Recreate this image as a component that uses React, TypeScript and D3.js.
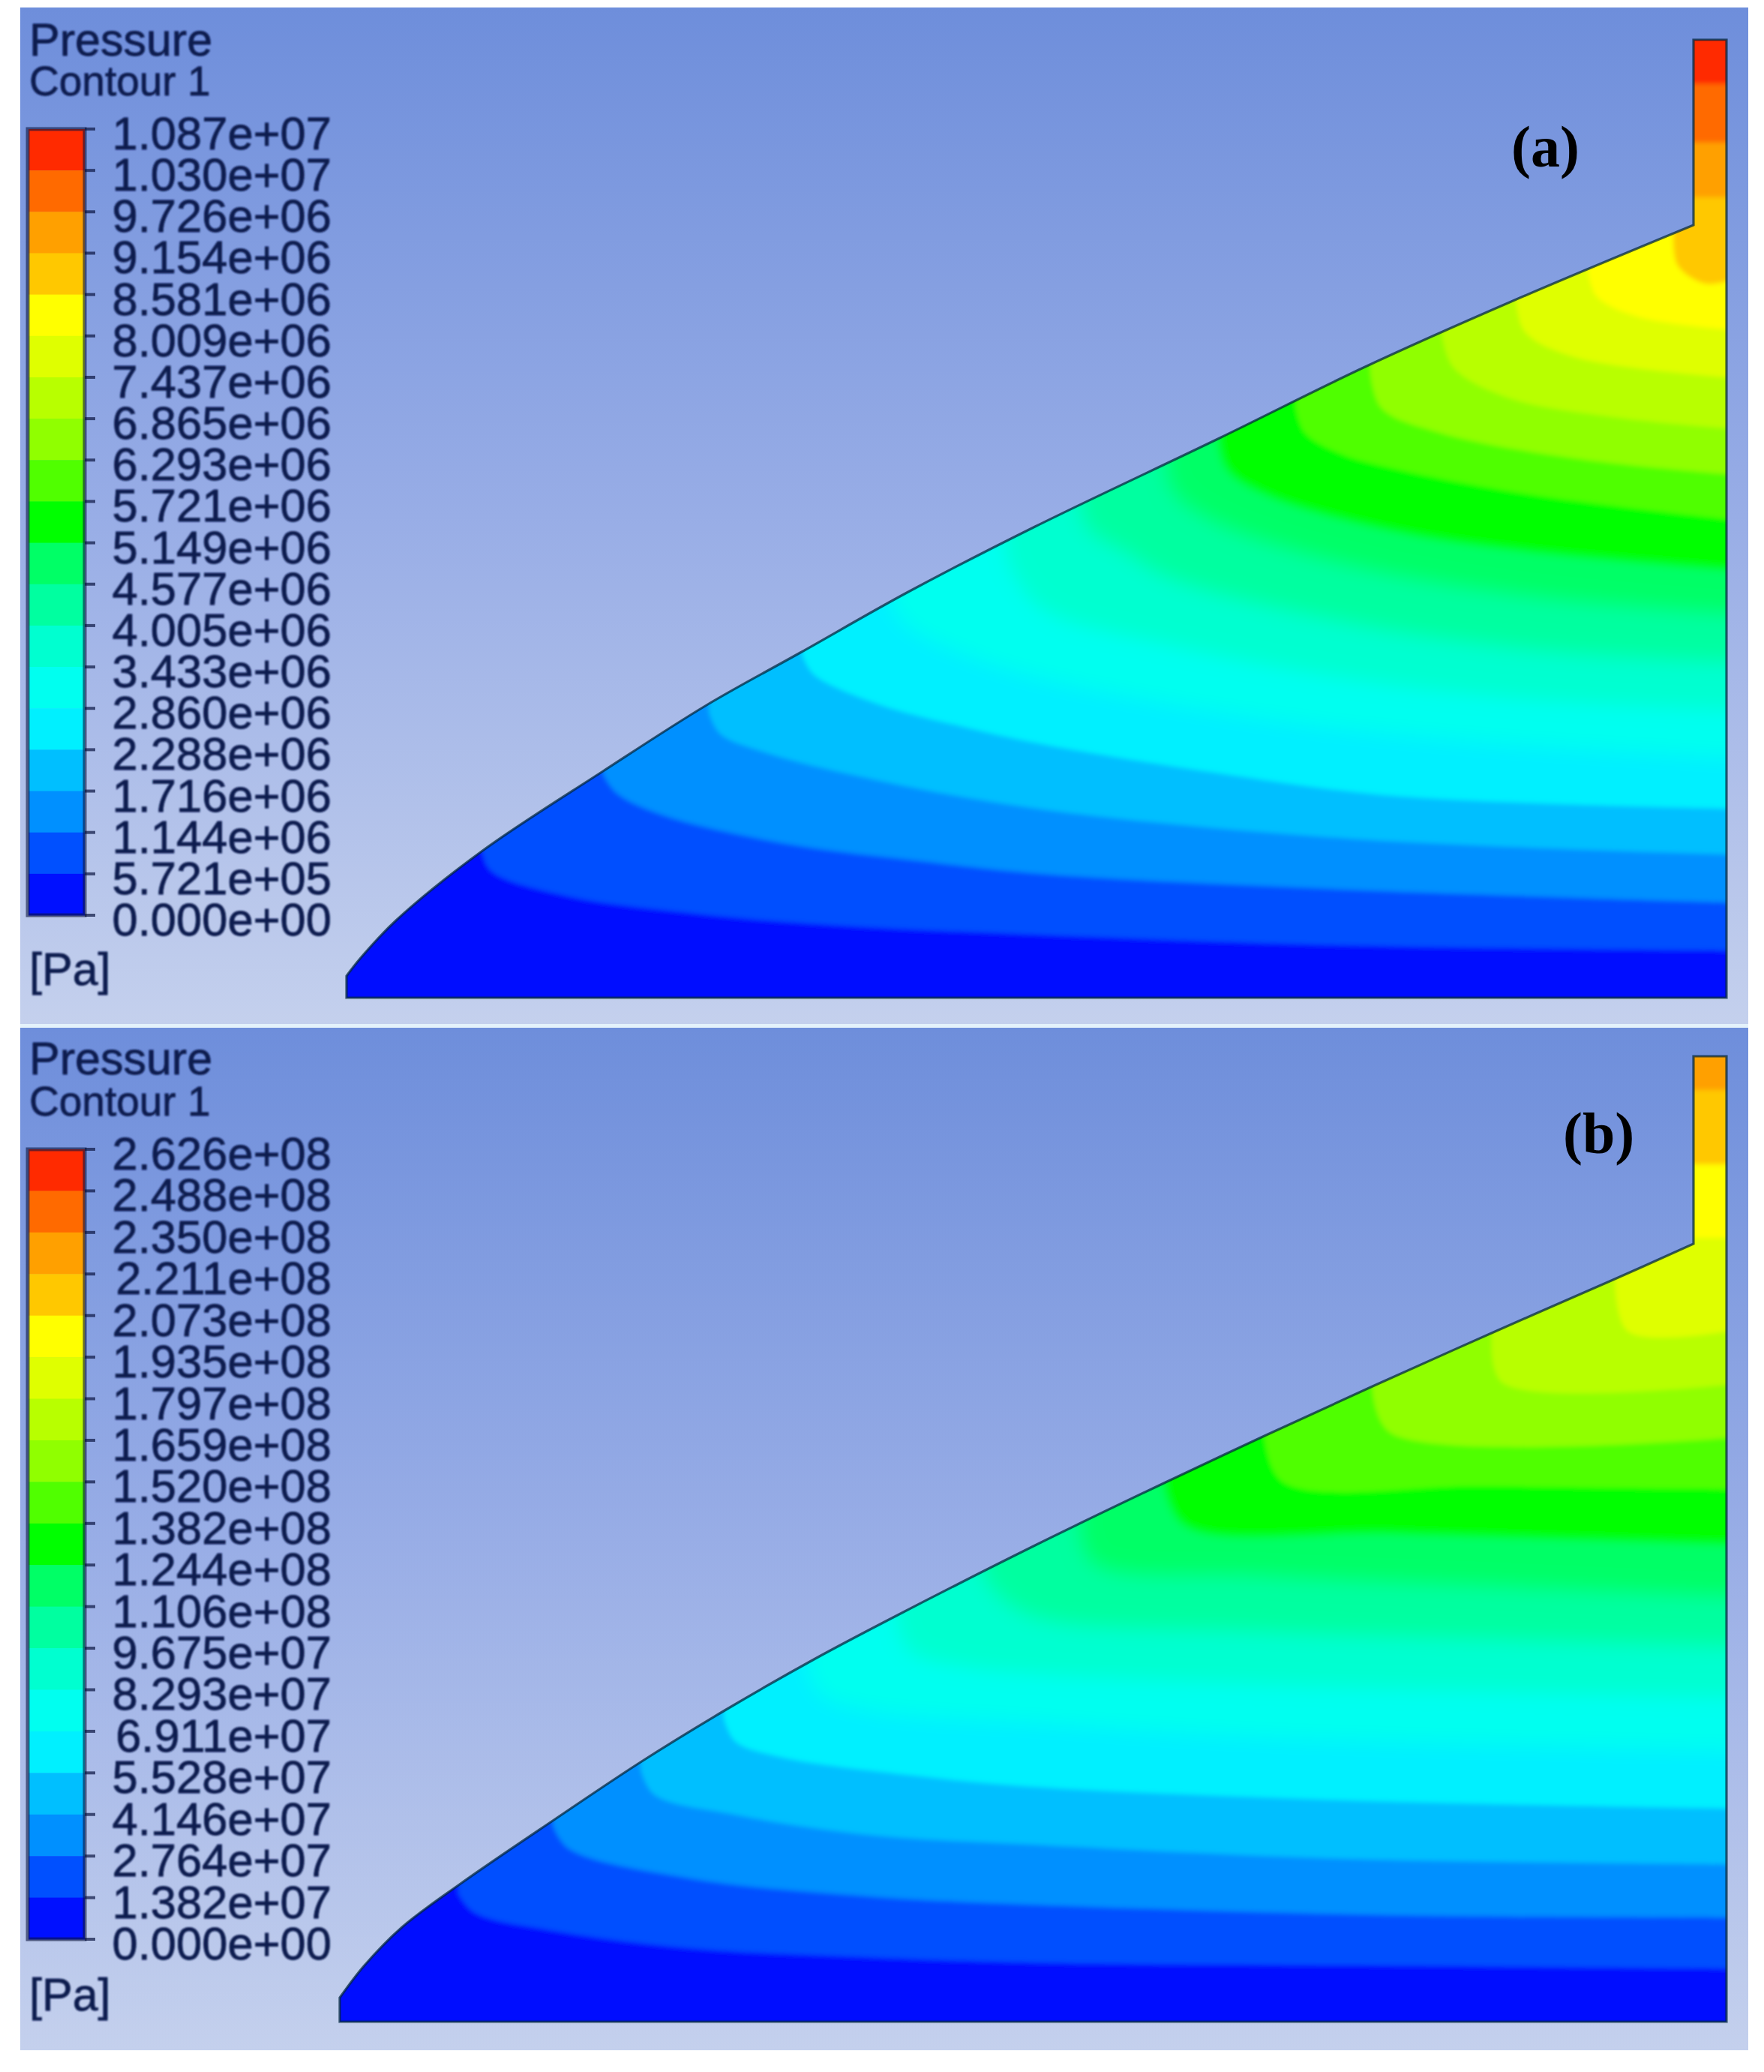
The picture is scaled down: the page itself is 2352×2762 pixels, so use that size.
import * as d3 from 'd3';

type Pt = [number, number];

// colour per pressure band, lowest first
const bandColors = [
  '#0010ff', '#0050ff', '#0090ff', '#00bfff', '#00f0ff', '#00fff0', '#00ffd0',
  '#00ffa0', '#00ff66', '#00ff00', '#50ff00', '#90ff00', '#b8ff00', '#dfff00',
  '#ffff00', '#ffc800', '#ffa000', '#ff6a00', '#ff2a00',
];

const labelsA = [
  '1.087e+07', '1.030e+07', '9.726e+06', '9.154e+06', '8.581e+06', '8.009e+06', '7.437e+06',
  '6.865e+06', '6.293e+06', '5.721e+06', '5.149e+06', '4.577e+06', '4.005e+06', '3.433e+06',
  '2.860e+06', '2.288e+06', '1.716e+06', '1.144e+06', '5.721e+05', '0.000e+00',
];

const labelsB = [
  '2.626e+08', '2.488e+08', '2.350e+08', '2.211e+08', '2.073e+08', '1.935e+08', '1.797e+08',
  '1.659e+08', '1.520e+08', '1.382e+08', '1.244e+08', '1.106e+08', '9.675e+07', '8.293e+07',
  '6.911e+07', '5.528e+07', '4.146e+07', '2.764e+07', '1.382e+07', '0.000e+00',
];

// wall profile and isobars as [axial, radial]
const wallA: Pt[] = [
  [0, 2.9], [1.8, 5.2], [6.6, 10.3], [18, 19.5], [34.2, 30.2], [48, 39], [60.5, 46], [74.9, 54.1],
  [91.8, 62.8], [116.4, 74.6], [135.6, 84], [155.3, 92.8], [179.6, 103],
];

const wallB: Pt[] = [
  [0, 3.2], [3.2, 7.4], [8.3, 12.6], [16.1, 18.4], [28.7, 27], [40.1, 34.6], [51.5, 41.6], [63.4, 48.4],
  [73.6, 53.8], [92.7, 63.5], [110.1, 71.9], [123.3, 78.1], [137.7, 84.7], [153.8, 91.9], [170, 99], [180.5, 103.7],
];

const isobarsA: Pt[][] = [
  [[18, 20], [19.2, 17], [28.8, 13.7], [46.8, 11.2], [64.7, 9.7], [92.8, 8.4], [133.8, 7], [184, 6.3]],
  [[34.2, 29.8], [36, 27.3], [42, 24.4], [58.8, 20.5], [76.7, 18.2], [92.8, 16.5], [133.8, 14.4], [184, 12.7]],
  [[48.3, 38.1], [49.8, 35.2], [55.8, 32.7], [70.7, 29], [92.8, 25.1], [133.8, 21.2], [184, 19.1]],
  [[60.8, 45.6], [62.3, 43.1], [70.7, 39.2], [82.7, 36], [92.8, 33.8], [115.8, 30], [139.8, 26.9], [184, 25.2]],
  [[72.5, 52.6], [74.8, 49.5], [82.7, 45.6], [92.8, 42.5], [121.8, 37.2], [151.8, 34], [184, 32]],
  [[87.8, 60.3], [89, 56.5], [92.8, 51.8], [109.8, 47], [133.8, 42.5], [157.7, 39.8], [184, 38.4]],
  [[97.8, 65.8], [99, 62.5], [103.8, 59.5], [109.8, 56], [133.8, 50], [157.7, 46.5], [184, 44.8]],
  [[109.3, 71.3], [110.3, 67.5], [115.8, 63.5], [133.8, 57.7], [157.7, 53.6], [184, 51.3]],
  [[116.4, 74.6], [117.6, 70.5], [123, 67.1], [139.8, 62.4], [157.7, 59.7], [184, 57.3]],
  [[126.6, 78.6], [127.8, 75.3], [132.6, 72.5], [139.8, 70.5], [157.7, 67.1], [184, 63.8]],
  [[136.5, 83.4], [138, 78.6], [145.8, 75.3], [163.7, 71.9], [184, 69.8]],
  [[146.1, 88.1], [147.6, 84], [154.8, 80], [169.7, 77.3], [184, 75.9]],
  [[155.9, 93.2], [157.1, 88.8], [163.7, 85.4], [184, 82.7]],
  [[165.5, 96.9], [166.7, 93.5], [172.1, 90.8], [184, 89.1]],
  [[176.9, 101.6], [177.5, 97.6], [181.1, 95.2], [184, 95.5]],
  [[179, 106.7], [184, 106.7]],
  [[179, 114], [184, 114]],
  [[179, 121.8], [184, 121.8]],
];

const isobarsB: Pt[][] = [
  [[15.8, 17.1], [17.9, 14.6], [28.7, 12.1], [46.7, 9.8], [70.6, 8.6], [92.7, 7.9], [140.7, 7.5], [184.9, 7.1]],
  [[28.4, 26.2], [30.5, 23.1], [46.7, 19.1], [70.6, 16.7], [92.7, 15.6], [140.7, 14.2], [184.9, 13.9]],
  [[40.1, 33.7], [41.9, 30.3], [52.7, 27.6], [70.6, 24.9], [92.7, 23.6], [134.7, 21.7], [184.9, 21]],
  [[51.2, 40.5], [52.7, 37.4], [58.7, 35.3], [76.6, 32.8], [92.7, 31.3], [134.7, 29.5], [184.9, 28.4]],
  [[62.2, 47.5], [64.1, 43.6], [70.6, 41.5], [92.7, 39.8], [122.7, 37.9], [184.9, 36.2]],
  [[74.2, 54], [76, 49.4], [83.7, 47.3], [92.7, 46.4], [122.7, 45], [184.9, 43.3]],
  [[85.6, 60.2], [87.4, 57.3], [92.7, 54], [122.7, 52.1], [152.7, 51.1], [184.9, 50.1]],
  [[98.7, 66], [100.5, 61.2], [122.7, 59.5], [152.7, 58.2], [184.9, 56.8]],
  [[110.1, 71.7], [112.8, 66.3], [140.7, 65.3], [184.9, 63.9]],
  [[123.3, 78.1], [125.7, 72], [152.7, 71.4], [184.9, 71]],
  [[137.7, 84.2], [140.1, 78.5], [184.9, 77.8]],
  [[153.6, 91.3], [155, 85.2], [184.9, 84.9]],
  [[170, 99.1], [171.8, 92], [184.9, 92]],
  [[180.5, 104.5], [184.9, 104.5]],
  [[179, 114.3], [184.9, 114.3]],
  [[179, 124.2], [184.9, 124.2]],
];

const ink = '#0d1d50';
const sansFont = '"Liberation Sans", Arial, sans-serif';

interface PanelProps {
  id: string;
  tag: string;
  tagX: number;
  tagY: number;
  top: number;
  bottom: number;
  labels: string[];
  wall: Pt[];
  isobars: Pt[][];
  bodyLeft: number;
  bodyBottom: number;
  bodyTop: number;
  barTop: number;
  barBottom: number;
  titleY: number;
  subtitleY: number;
  unitY: number;
}

const Panel = ({
  id, tag, tagX, tagY, top, bottom, labels, wall, isobars,
  bodyLeft, bodyBottom, bodyTop, barTop, barBottom, titleY, subtitleY, unitY,
}: PanelProps) => {
  const xMax = (2302 - bodyLeft) / 10;
  const yMax = (bodyBottom - bodyTop) / 10;
  const x = d3.scaleLinear().domain([0, xMax]).range([bodyLeft, 2302]);
  const y = d3.scaleLinear().domain([0, yMax]).range([bodyBottom, bodyTop]);
  const legendY = d3.scalePoint<string>().domain(labels).range([barTop, barBottom]);

  const curve = d3.line<Pt>()
    .x((d) => x(d[0]))
    .y((d) => y(d[1]))
    .curve(d3.curveCatmullRom.alpha(0.5));

  const neck = wall[wall.length - 1][0];
  const outline = `${curve(wall)}L${x(neck)},${y(yMax)}L${x(xMax)},${y(yMax)}L${x(xMax)},${y(0)}L${x(0)},${y(0)}Z`;

  // everything above an isobar is at least that band; painted low to high
  const bandPath = (pts: Pt[]) => {
    const last = pts[pts.length - 1];
    const ceil = bodyTop - 30;
    const side = x(xMax) + 30;
    return `${curve(pts)}L${side},${y(last[1])}L${side},${ceil}L${x(pts[0][0])},${ceil}Z`;
  };

  // the cyan to green bands melt into each other in the picture
  const bandFilter = (i: number) => {
    if (i >= 4 && i <= 7) return 'url(#softWide)';
    if (i === 8) return 'url(#softMid)';
    return undefined;
  };

  return (
    <g>
      <defs>
        <linearGradient id={`bg-${id}`} x1="0" y1="0" x2="0" y2="1">
          <stop offset="0" stopColor="#6e8edb" />
          <stop offset="0.5" stopColor="#98ade6" />
          <stop offset="1" stopColor="#c4d0ed" />
        </linearGradient>
        <clipPath id={`body-${id}`}>
          <path d={outline} />
        </clipPath>
      </defs>
      <rect x={27} y={top} width={2304} height={bottom - top} fill={`url(#bg-${id})`} />

      <g clipPath={`url(#body-${id})`}>
        <g filter="url(#soft)">
          <rect x={bodyLeft - 30} y={bodyTop - 30} width={2302 - bodyLeft + 60} height={bodyBottom - bodyTop + 60} fill={bandColors[0]} />
          {isobars.map((pts, i) => (
            <path key={i} d={bandPath(pts)} fill={bandColors[i + 1]} filter={bandFilter(i)} />
          ))}
        </g>
      </g>
      <path d={outline} fill="none" stroke="#00263c" strokeOpacity={0.72} strokeWidth={3.2} strokeLinejoin="miter" />

      <g filter="url(#textSoft)" fontFamily={sansFont} fill={ink} stroke={ink} strokeWidth={0.8}>
        <text x={39} y={titleY} fontSize={61}>Pressure</text>
        <text x={39} y={subtitleY} fontSize={55}>Contour 1</text>
        <text x={39} y={unitY} fontSize={61}>[Pa]</text>
        {labels.map((label) => (
          <text key={label} x={442} y={legendY(label)! + 27} fontSize={61.5} textAnchor="end">{label}</text>
        ))}
      </g>

      {labels.slice(0, -1).map((label, i) => {
        const y0 = legendY(label)!;
        const y1 = legendY(labels[i + 1])!;
        return (
          <rect key={label} x={38} y={y0} width={75} height={y1 - y0 + 0.5}
            fill={bandColors[bandColors.length - 1 - i]} />
        );
      })}
      <rect x={37} y={barTop} width={76} height={barBottom - barTop} fill="none"
        stroke="#0a1440" strokeOpacity={0.6} strokeWidth={5} />
      {labels.map((label) => (
        <line key={label} x1={113} x2={127} y1={legendY(label)} y2={legendY(label)}
          stroke="#0a1440" strokeOpacity={0.7} strokeWidth={4} />
      ))}

      <text x={tagX} y={tagY} fontFamily='"Liberation Serif", serif' fontWeight="bold" fontSize={78} fill="#000">{tag}</text>
    </g>
  );
};

export default function App() {
  return (
    <svg
      width={2352}
      height={2762}
      viewBox="0 0 2352 2762"
      style={{ position: 'absolute', left: 0, top: 0, display: 'block', background: '#fff' }}
    >
      <defs>
        <filter id="soft" filterUnits="userSpaceOnUse" x="0" y="0" width="2352" height="2762">
          <feGaussianBlur stdDeviation="3" />
        </filter>
        <filter id="softMid" filterUnits="userSpaceOnUse" x="0" y="0" width="2352" height="2762">
          <feGaussianBlur stdDeviation="6" />
        </filter>
        <filter id="softWide" filterUnits="userSpaceOnUse" x="0" y="0" width="2352" height="2762">
          <feGaussianBlur stdDeviation="13" />
        </filter>
        <filter id="textSoft" filterUnits="userSpaceOnUse" x="0" y="0" width="2352" height="2762">
          <feGaussianBlur stdDeviation="0.9" />
        </filter>
      </defs>
      <Panel
        id="a" tag="(a)" tagX={2015} tagY={222} top={10} bottom={1365}
        labels={labelsA} wall={wallA} isobars={isobarsA}
        bodyLeft={462} bodyBottom={1330} bodyTop={53}
        barTop={172} barBottom={1220} titleY={74} subtitleY={127} unitY={1313}
      />
      <rect x={27} y={1365} width={2304} height={5} fill="#e4f2fb" />
      <Panel
        id="b" tag="(b)" tagX={2084} tagY={1537} top={1370} bottom={2733}
        labels={labelsB} wall={wallB} isobars={isobarsB}
        bodyLeft={453} bodyBottom={2695} bodyTop={1408}
        barTop={1532} barBottom={2585} titleY={1432} subtitleY={1487} unitY={2680}
      />
    </svg>
  );
}
